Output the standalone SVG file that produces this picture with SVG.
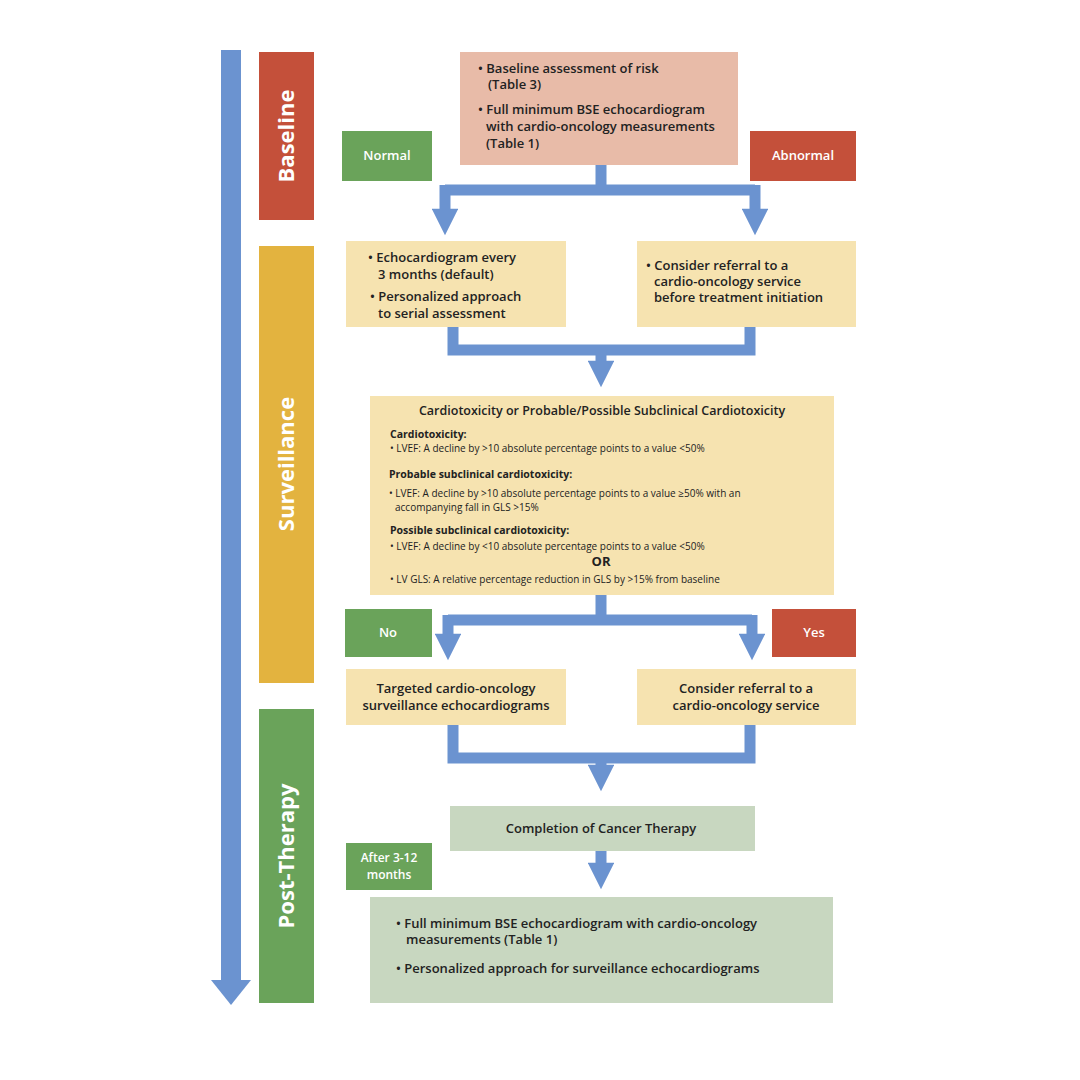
<svg xmlns="http://www.w3.org/2000/svg" width="1080" height="1080" viewBox="0 0 1080 1080">
<style>
text{font-family:"Open Sans","Liberation Sans",sans-serif;fill:#222;font-weight:600}
.w{fill:#fff}
.ph{fill:#fff;font-size:22px;font-weight:700}
.t{font-size:13px}
.s{font-size:10px;font-weight:400}
.h{font-size:10.5px;font-weight:700}
.c{fill:none;stroke:#6b93d0;stroke-width:11}
.bg{fill:#f6e3b0}
</style>
<defs><marker id="ah" viewBox="0 0 10 10" refX="5" refY="5" markerWidth="2.6" markerHeight="2.4" markerUnits="strokeWidth" orient="auto"><path d="M0,0L10,5L0,10z" fill="#6b93d0"/></marker></defs>
<rect width="1080" height="1080" fill="#fff"/>
<g id="timeline"><line x1="231" y1="50" x2="231" y2="985" stroke="#6b93d0" stroke-width="20"/><path d="M211,980 L251,980 L231,1005z" fill="#6b93d0"/></g>
<g id="phase-baseline"><rect x="259" y="52" width="55" height="168" fill="#c4503a"/><text class="ph" transform="translate(294,136) rotate(-90)" text-anchor="middle">Baseline</text></g>
<g id="phase-surveillance"><rect x="259" y="246" width="55" height="437" fill="#e3b33f"/><text class="ph" transform="translate(294,464) rotate(-90)" text-anchor="middle">Surveillance</text></g>
<g id="phase-post"><rect x="259" y="709" width="55" height="294" fill="#6aa35a"/><text class="ph" transform="translate(294,856) rotate(-90)" text-anchor="middle">Post-Therapy</text></g>
<g id="connectors">
<path class="c" d="M601,165V190M445,190H755"/>
<path class="c" d="M445,185V222" marker-end="url(#ah)"/><path class="c" d="M755,185V222" marker-end="url(#ah)"/>
<path class="c" d="M453,327V350H750V327"/><path class="c" d="M601,350V374" marker-end="url(#ah)"/>
<path class="c" d="M601,595V620M448,620H752"/>
<path class="c" d="M448,615V647" marker-end="url(#ah)"/><path class="c" d="M752,615V647" marker-end="url(#ah)"/>
<path class="c" d="M453,725V758H750V725"/><path class="c" d="M601,758V778" marker-end="url(#ah)"/>
<path class="c" d="M601,851V876" marker-end="url(#ah)"/>
</g>
<g id="baseline-box"><rect x="460" y="52" width="278" height="113" fill="#e8bba8"/>
<text class="t" x="478" y="73">• Baseline assessment of risk</text><text class="t" x="488" y="89">(Table 3)</text>
<text class="t" x="478" y="114">• Full minimum BSE echocardiogram</text><text class="t" x="486" y="131">with cardio-oncology measurements</text><text class="t" x="486" y="148">(Table 1)</text></g>
<g id="normal"><rect x="342" y="131" width="90" height="50" fill="#6aa35a"/><text class="t w" x="387" y="160" text-anchor="middle">Normal</text></g>
<g id="abnormal"><rect x="750" y="131" width="106" height="50" fill="#c4503a"/><text class="t w" x="803" y="160" text-anchor="middle">Abnormal</text></g>
<g id="echo-every"><rect class="bg" x="346" y="241" width="220" height="86"/>
<text class="t" x="368" y="262">• Echocardiogram every</text><text class="t" x="378" y="279">3 months (default)</text>
<text class="t" x="370" y="301">• Personalized approach</text><text class="t" x="378" y="318">to  serial assessment</text></g>
<g id="referral-before"><rect class="bg" x="637" y="241" width="219" height="86"/>
<text class="t" x="646" y="270">• Consider referral to a</text><text class="t" x="654" y="286">cardio-oncology service</text><text class="t" x="654" y="302">before treatment initiation</text></g>
<g id="cardiotox"><rect class="bg" x="370" y="396" width="464" height="199"/>
<text x="602" y="415" text-anchor="middle" style="font-size:12.5px">Cardiotoxicity or Probable/Possible Subclinical Cardiotoxicity</text>
<text class="h" x="390" y="438">Cardiotoxicity:</text>
<text class="s" x="390" y="452">• LVEF: A decline by &gt;10 absolute percentage points to a value &lt;50%</text>
<text class="h" x="389" y="478">Probable subclinical cardiotoxicity:</text>
<text class="s" x="389" y="497">• LVEF: A decline by &gt;10 absolute percentage points to a value ≥50% with an</text>
<text class="s" x="395" y="511">accompanying fall in GLS &gt;15%</text>
<text class="h" x="390" y="534">Possible subclinical cardiotoxicity:</text>
<text class="s" x="390" y="550">• LVEF: A decline by &lt;10 absolute percentage points to a value &lt;50%</text>
<text x="601" y="566" text-anchor="middle" style="font-size:13px;font-weight:700">OR</text>
<text class="s" x="390" y="583">• LV GLS: A relative percentage reduction in GLS by &gt;15% from baseline</text></g>
<g id="no"><rect x="345" y="609" width="87" height="48" fill="#6aa35a"/><text class="t w" x="388" y="637" text-anchor="middle">No</text></g>
<g id="yes"><rect x="772" y="609" width="84" height="48" fill="#c4503a"/><text class="t w" x="814" y="637" text-anchor="middle">Yes</text></g>
<g id="targeted"><rect class="bg" x="346" y="669" width="220" height="56"/>
<text class="t" x="456" y="693" text-anchor="middle">Targeted cardio-oncology</text><text class="t" x="456" y="710" text-anchor="middle">surveillance echocardiograms</text></g>
<g id="referral"><rect class="bg" x="637" y="669" width="219" height="56"/>
<text class="t" x="746" y="693" text-anchor="middle">Consider referral to a</text><text class="t" x="746" y="710" text-anchor="middle">cardio-oncology service</text></g>
<g id="completion"><rect x="450" y="806" width="305" height="45" fill="#c8d7c0"/><text class="t" x="601" y="833" text-anchor="middle">Completion of Cancer Therapy</text></g>
<g id="after"><rect x="346" y="843" width="86" height="47" fill="#6aa35a"/><text class="t w" x="389" y="862" text-anchor="middle" style="font-size:12px">After 3-12</text><text class="t w" x="389" y="879" text-anchor="middle" style="font-size:12px">months</text></g>
<g id="final"><rect x="370" y="897" width="463" height="106" fill="#c8d7c0"/>
<text class="t" x="396" y="928">• Full minimum BSE echocardiogram with cardio-oncology</text><text class="t" x="406" y="944">measurements (Table 1)</text>
<text class="t" x="396" y="973">• Personalized approach for surveillance echocardiograms</text></g>
</svg>
